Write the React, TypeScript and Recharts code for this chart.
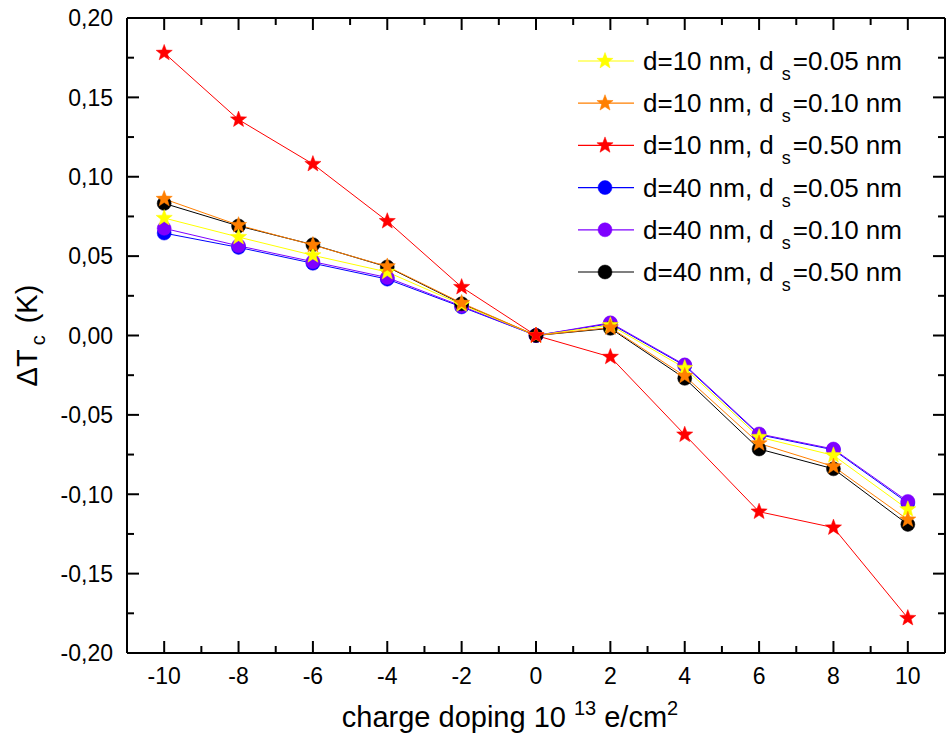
import React from 'react';
import { LineChart, Line, XAxis, YAxis } from 'recharts';

const xValues = [-10, -8, -6, -4, -2, 0, 2, 4, 6, 8, 10];
const d10s005 = [0.074, 0.062, 0.0505, 0.04, 0.0195, 0, 0.0065, -0.0205, -0.064, -0.0755, -0.1095];
const d10s010 = [0.086, 0.0695, 0.057, 0.0435, 0.0205, 0, 0.005, -0.0255, -0.068, -0.0825, -0.116];
const d10s050 = [0.178, 0.136, 0.108, 0.072, 0.0305, 0, -0.0135, -0.0625, -0.111, -0.121, -0.178];
const d40s005 = [0.0645, 0.0555, 0.0455, 0.0355, 0.018, 0, 0.0075, -0.019, -0.0625, -0.072, -0.1055];
const d40s010 = [0.0675, 0.0565, 0.0465, 0.0365, 0.0185, 0, 0.008, -0.0185, -0.062, -0.0715, -0.1045];
const d40s050 = [0.0832, 0.069, 0.0572, 0.0432, 0.02, 0, 0.0045, -0.027, -0.0715, -0.084, -0.119];

const xTicks = [-10, -9, -8, -7, -6, -5, -4, -3, -2, -1, 0, 1, 2, 3, 4, 5, 6, 7, 8, 9, 10];
const yTicks = [-0.2, -0.175, -0.15, -0.125, -0.1, -0.075, -0.05, -0.025, 0, 0.025, 0.05, 0.075, 0.1, 0.125, 0.15, 0.175, 0.2];

const seriesInfo = [
  { key: 'a', name: 'd=10 nm, d', sub: 's', rest: '=0.05 nm', color: '#FFFF00', lineColor: '#FFFF00', shape: 'star', values: d10s005 },
  { key: 'b', name: 'd=10 nm, d', sub: 's', rest: '=0.10 nm', color: '#FF7F00', lineColor: '#FF7F00', shape: 'star', values: d10s010 },
  { key: 'c', name: 'd=10 nm, d', sub: 's', rest: '=0.50 nm', color: '#FF0000', lineColor: '#FF0000', shape: 'star', values: d10s050 },
  { key: 'd', name: 'd=40 nm, d', sub: 's', rest: '=0.05 nm', color: '#0000FF', lineColor: '#0000FF', shape: 'circle', values: d40s005 },
  { key: 'e', name: 'd=40 nm, d', sub: 's', rest: '=0.10 nm', color: '#7F00FF', lineColor: '#7F00FF', shape: 'circle', values: d40s010 },
  { key: 'f', name: 'd=40 nm, d', sub: 's', rest: '=0.50 nm', color: '#000000', lineColor: '#000000', shape: 'circle', values: d40s050 },
];

// drawing order (bottom to top)
const drawOrder = ['d', 'e', 'f', 'a', 'b', 'c'];

const data = xValues.map((x, i) => {
  const row: any = { x };
  seriesInfo.forEach((s) => {
    row[s.key] = s.values[i];
  });
  return row;
});

const FONT = '"Liberation Sans", Arial, Helvetica, sans-serif';

const starPoints = (cx: number, cy: number, R: number) => {
  const pts: string[] = [];
  for (let i = 0; i < 10; i++) {
    const ang = ((-90 + i * 36) * Math.PI) / 180;
    const r = i % 2 === 0 ? R : R * 0.42;
    pts.push(`${cx + r * Math.cos(ang)},${cy + r * Math.sin(ang)}`);
  }
  return pts.join(' ');
};

const Marker = ({ cx, cy, shape, color }: any) =>
  shape === 'star' ? (
    <polygon points={starPoints(cx, cy, 8.5)} fill={color} stroke={color} strokeWidth={0.5} />
  ) : (
    <circle cx={cx} cy={cy} r={7} fill={color} stroke={color} strokeWidth={0.5} />
  );

const makeDot = (shape: string, color: string) => (p: any) => {
  if (p.cx == null || p.cy == null) return <g key={`k${p.index}`} />;
  return (
    <g key={`k${p.index}`}>
      <Marker cx={p.cx} cy={p.cy} shape={shape} color={color} />
    </g>
  );
};

const isMajorY = (v: number) => Math.round(Math.abs(v) * 1000) % 50 === 0;
const fmtY = (v: number) => (v < -1e-9 ? '-' : '') + Math.abs(v).toFixed(2).replace('.', ',');

const BottomTick = (props: any) => {
  const { x, y, payload } = props;
  const v = payload.value;
  const major = Math.round(v) % 2 === 0;
  return (
    <g>
      <line x1={x} x2={x} y1={y} y2={y - (major ? 12 : 7)} stroke="#000" strokeWidth={2} />
      {major && (
        <text x={x} y={y + 31} textAnchor="middle" fontSize={23} fontFamily={FONT} fill="#000">
          {String(v)}
        </text>
      )}
    </g>
  );
};

const TopTick = (props: any) => {
  const { x, y, payload } = props;
  const major = Math.round(payload.value) % 2 === 0;
  return <line x1={x} x2={x} y1={y} y2={y + (major ? 12 : 7)} stroke="#000" strokeWidth={2} />;
};

const LeftTick = (props: any) => {
  const { x, y, payload } = props;
  const v = payload.value;
  const major = isMajorY(v);
  return (
    <g>
      <line x1={x} x2={x + (major ? 12 : 7)} y1={y} y2={y} stroke="#000" strokeWidth={2} />
      {major && (
        <text x={x - 14} y={y} dy="0.36em" textAnchor="end" fontSize={23} fontFamily={FONT} fill="#000">
          {fmtY(v)}
        </text>
      )}
    </g>
  );
};

const RightTick = (props: any) => {
  const { x, y, payload } = props;
  const major = isMajorY(payload.value);
  return <line x1={x} x2={x - (major ? 12 : 7)} y1={y} y2={y} stroke="#000" strokeWidth={2} />;
};

const XLabel = (props: any) => {
  const vb = props.viewBox || { x: 127, y: 653, width: 818, height: 85 };
  const cx = vb.x + vb.width / 2 - 26;
  const by = vb.y + 74;
  return (
    <text x={cx} y={by} textAnchor="middle" fontSize={29} fontFamily={FONT} fill="#000">
      charge doping 10
      <tspan dx={8} dy={-12} fontSize={20}>13</tspan>
      <tspan dx={8} dy={12} fontSize={29}>e/cm</tspan>
      <tspan dy={-12} fontSize={20}>2</tspan>
    </text>
  );
};

const YLabel = (props: any) => {
  const vb = props.viewBox || { x: 0, y: 18, width: 127, height: 635 };
  const cx = vb.x + 37;
  const cy = vb.y + vb.height / 2;
  return (
    <text
      x={cx}
      y={cy}
      textAnchor="middle"
      fontSize={29}
      fontFamily={FONT}
      fill="#000"
      transform={`rotate(-90 ${cx} ${cy})`}
    >
      ΔT
      <tspan dx={4} dy={8} fontSize={20}>c</tspan>
      <tspan dx={12} dy={-8} fontSize={29}>(K)</tspan>
    </text>
  );
};

const LegendOverlay = () => (
  <svg
    width={946}
    height={738}
    style={{ position: 'absolute', left: 0, top: 0, pointerEvents: 'none' }}
  >
    {seriesInfo.map((s, i) => {
      const cy = 61 + i * 42.2;
      return (
        <g key={s.key}>
          <line x1={578} x2={634} y1={cy} y2={cy} stroke={s.lineColor} strokeWidth={1.2} />
          <Marker cx={605} cy={cy} shape={s.shape} color={s.color} />
          <text x={643} y={cy + 9} fontSize={26} fontFamily={FONT} fill="#000">
            {s.name}
            <tspan dx={8} dy={10} fontSize={18}>{s.sub}</tspan>
            <tspan dx={2} dy={-10} fontSize={26}>{s.rest}</tspan>
          </text>
        </g>
      );
    })}
  </svg>
);

export default function App() {
  const ordered = drawOrder.map((k) => seriesInfo.find((s) => s.key === k)!);
  return (
    <div style={{ position: 'absolute', left: 0, top: 0, width: 946, height: 738, background: '#fff' }}>
      <LineChart width={946} height={738} data={data} margin={{ top: 0, right: 0, bottom: 0, left: 0 }}>
        <XAxis
          xAxisId="b"
          type="number"
          dataKey="x"
          domain={[-11, 11]}
          allowDataOverflow
          ticks={xTicks}
          interval={0}
          tickSize={0}
          tickMargin={0}
          tickLine={false}
          tick={<BottomTick />}
          axisLine={{ stroke: '#000', strokeWidth: 2 }}
          height={85}
          label={XLabel}
        />
        <XAxis
          xAxisId="t"
          orientation="top"
          type="number"
          dataKey="x"
          domain={[-11, 11]}
          allowDataOverflow
          ticks={xTicks}
          interval={0}
          tickSize={0}
          tickMargin={0}
          tickLine={false}
          tick={<TopTick />}
          axisLine={{ stroke: '#000', strokeWidth: 2 }}
          height={18}
        />
        <YAxis
          yAxisId="l"
          type="number"
          domain={[-0.2, 0.2]}
          allowDataOverflow
          ticks={yTicks}
          interval={0}
          tickSize={0}
          tickMargin={0}
          tickLine={false}
          tick={<LeftTick />}
          axisLine={{ stroke: '#000', strokeWidth: 2 }}
          width={127}
          label={YLabel}
        />
        <YAxis
          yAxisId="r"
          orientation="right"
          type="number"
          domain={[-0.2, 0.2]}
          allowDataOverflow
          ticks={yTicks}
          interval={0}
          tickSize={0}
          tickMargin={0}
          tickLine={false}
          tick={<RightTick />}
          axisLine={{ stroke: '#000', strokeWidth: 2 }}
          width={1}
        />
        {ordered.map((s) => (
          <Line
            key={s.key}
            xAxisId="b"
            yAxisId="l"
            type="linear"
            dataKey={s.key}
            stroke={s.lineColor}
            strokeWidth={1}
            dot={makeDot(s.shape, s.color)}
            activeDot={false}
            isAnimationActive={false}
          />
        ))}
        {/* hidden helper series so mirrored axes share the same scale */}
        <Line
          xAxisId="t"
          yAxisId="r"
          dataKey="c"
          stroke="none"
          dot={false}
          activeDot={false}
          isAnimationActive={false}
          legendType="none"
        />
      </LineChart>
      <LegendOverlay />
    </div>
  );
}
